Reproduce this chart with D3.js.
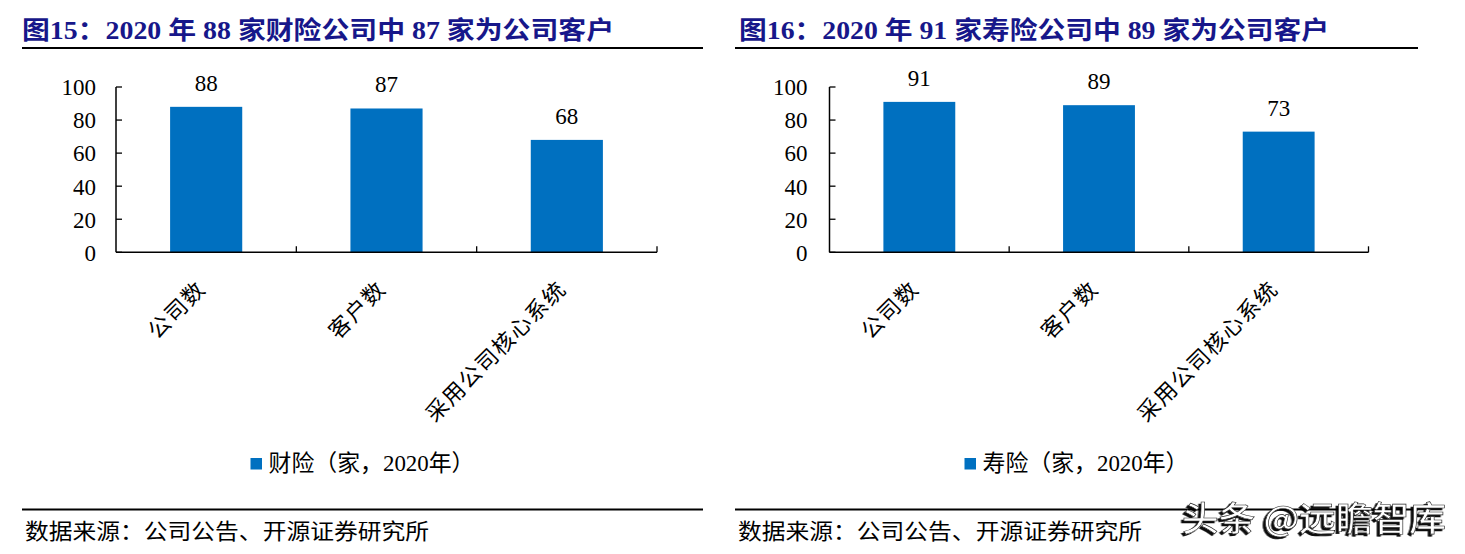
<!DOCTYPE html>
<html>
<head>
<meta charset="utf-8">
<script src="https://cdn.jsdelivr.net/npm/d3@7"></script>
<style>
  html, body { margin: 0; padding: 0; background: #fff; }
  svg { display: block; }
</style>
</head>
<body>
<svg id="chart" width="1465" height="554"></svg>
<script>
// ---- data ----
const categories = ["公司数", "客户数", "采用公司核心系统"];
const propertyValues = [88, 87, 68];   // 财险
const lifeValues = [91, 89, 73];       // 寿险
const yTicks = [0, 20, 40, 60, 80, 100];
const titles = [
  "图15：2020 年 88 家财险公司中 87 家为公司客户",
  "图16：2020 年 91 家寿险公司中 89 家为公司客户"
];
const legendLabels = ["财险（家，2020年）", "寿险（家，2020年）"];
const sourceText = "数据来源：公司公告、开源证券研究所";
const watermark = "头条 @远瞻智库";

// ---- styles ----
const BAR = "#0070C0";
const TITLE = "#17178a";
const NUM_FONT = "'Liberation Serif', 'Times New Roman', 'Noto Sans CJK SC', serif";
const CJK_FONT = "'Liberation Serif', 'Noto Sans CJK SC', sans-serif";

const svg = d3.select("#chart");

const defs = svg.append("defs");
const f = defs.append("filter").attr("id", "wmShadow")
  .attr("x", "-10%").attr("y", "-30%").attr("width", "120%").attr("height", "160%");
f.append("feDropShadow").attr("dx", -2.5).attr("dy", 2).attr("stdDeviation", 0.6)
  .attr("flood-color", "#000").attr("flood-opacity", 0.95);

const panels = [
  { values: propertyValues, title: titles[0], legend: legendLabels[0],
    ruleX0: 22, ruleX1: 703, titleX: 22, titleLen: 592,
    plotX0: 116, plotX1: 657, tickLabelX: 96, legendTextLen: 206 },
  { values: lifeValues, title: titles[1], legend: legendLabels[1],
    ruleX0: 735, ruleX1: 1418, titleX: 739, titleLen: 590,
    plotX0: 829.5, plotX1: 1368.5, tickLabelX: 807.5, legendTextLen: 206 }
];

const plotTop = 87, plotBottom = 252.3;

panels.forEach(p => {
  const g = svg.append("g");

  // title
  g.append("text")
    .attr("x", p.titleX).attr("y", 39)
    .attr("font-family", CJK_FONT).attr("font-weight", "bold")
    .attr("font-size", 25).attr("fill", TITLE)
    .attr("textLength", p.titleLen).attr("lengthAdjust", "spacingAndGlyphs")
    .text(p.title);
  g.append("line")
    .attr("x1", p.ruleX0).attr("x2", p.ruleX1)
    .attr("y1", 48).attr("y2", 48)
    .attr("stroke", "#000").attr("stroke-width", 2.2);

  // scales
  const xb = d3.scaleBand().domain(categories).range([p.plotX0, p.plotX1]);
  const y = d3.scaleLinear().domain([0, 100]).range([plotBottom, plotTop]);

  // bars
  g.selectAll("rect.bar").data(p.values).enter().append("rect")
    .attr("class", "bar")
    .attr("x", (d, i) => xb(categories[i]) + xb.bandwidth() / 2 - xb.bandwidth() * 0.2)
    .attr("width", xb.bandwidth() * 0.4)
    .attr("y", d => y(d))
    .attr("height", d => plotBottom - y(d))
    .attr("fill", BAR);

  // value labels
  g.selectAll("text.val").data(p.values).enter().append("text")
    .attr("x", (d, i) => xb(categories[i]) + xb.bandwidth() / 2)
    .attr("y", d => y(d) - 16)
    .attr("text-anchor", "middle")
    .attr("font-family", NUM_FONT).attr("font-size", 23).attr("fill", "#000")
    .text(d => d);

  // y axis
  const yAxis = d3.axisLeft(y).tickValues(yTicks).tickSize(0).tickPadding(0);
  const ya = g.append("g").attr("transform", `translate(${p.plotX0},0)`).call(yAxis);
  ya.select(".domain").remove();
  ya.selectAll(".tick text")
    .attr("x", p.tickLabelX - p.plotX0)
    .attr("dy", "0.34em")
    .attr("font-family", NUM_FONT).attr("font-size", 23).attr("fill", "#000");
  g.append("line").attr("x1", p.plotX0).attr("x2", p.plotX0)
    .attr("y1", plotTop).attr("y2", plotBottom)
    .attr("stroke", "#000").attr("stroke-width", 1.5);
  g.selectAll("line.ytick").data(yTicks).enter().append("line")
    .attr("x1", p.plotX0).attr("x2", p.plotX0 + 6)
    .attr("y1", d => y(d)).attr("y2", d => y(d))
    .attr("stroke", "#000").attr("stroke-width", 1.3);

  // x axis
  g.append("line").attr("x1", p.plotX0).attr("x2", p.plotX1)
    .attr("y1", plotBottom).attr("y2", plotBottom)
    .attr("stroke", "#000").attr("stroke-width", 1.5);
  g.selectAll("line.xtick").data(categories).enter().append("line")
    .attr("x1", d => xb(d) + xb.bandwidth()).attr("x2", d => xb(d) + xb.bandwidth())
    .attr("y1", plotBottom).attr("y2", plotBottom - 6)
    .attr("stroke", "#000").attr("stroke-width", 1.3);

  // rotated category labels
  g.selectAll("text.cat").data(categories).enter().append("text")
    .attr("transform", d => `translate(${xb(d) + xb.bandwidth() / 2 + 1},${plotBottom + 38}) rotate(-45)`)
    .attr("text-anchor", "end")
    .attr("font-family", CJK_FONT).attr("font-size", 22).attr("fill", "#000")
    .attr("letter-spacing", 1.5)
    .text(d => d);

  // legend
  const cx = (p.ruleX0 + p.ruleX1) / 2;
  const lgW = 12 + 6 + p.legendTextLen;
  const lx = cx - lgW / 2;
  g.append("rect").attr("x", lx).attr("y", 458).attr("width", 11.5).attr("height", 11.5)
    .attr("fill", BAR);
  g.append("text").attr("x", lx + 18).attr("y", 471)
    .attr("font-family", CJK_FONT).attr("font-size", 23).attr("fill", "#000")
    .attr("textLength", p.legendTextLen).attr("lengthAdjust", "spacingAndGlyphs")
    .text(p.legend);

  // source
  g.append("line")
    .attr("x1", p.ruleX0).attr("x2", p.ruleX1)
    .attr("y1", 509.5).attr("y2", 509.5)
    .attr("stroke", "#000").attr("stroke-width", 2.2);
  g.append("text").attr("x", p.ruleX0 + 3).attr("y", 539)
    .attr("font-family", CJK_FONT).attr("font-size", 22).attr("fill", "#000")
    .attr("textLength", 404).attr("lengthAdjust", "spacingAndGlyphs")
    .text(sourceText);
});

// watermark (single text, white with dark shadow)
svg.append("text").attr("x", 1182).attr("y", 531)
  .attr("font-family", "'Noto Sans CJK SC', sans-serif").attr("font-size", 34)
  .attr("font-weight", 500)
  .attr("fill", "#fff").attr("stroke", "#222").attr("stroke-width", 0.6)
  .attr("filter", "url(#wmShadow)")
  .attr("textLength", 264).attr("lengthAdjust", "spacingAndGlyphs")
  .text(watermark);
</script>
</body>
</html>
